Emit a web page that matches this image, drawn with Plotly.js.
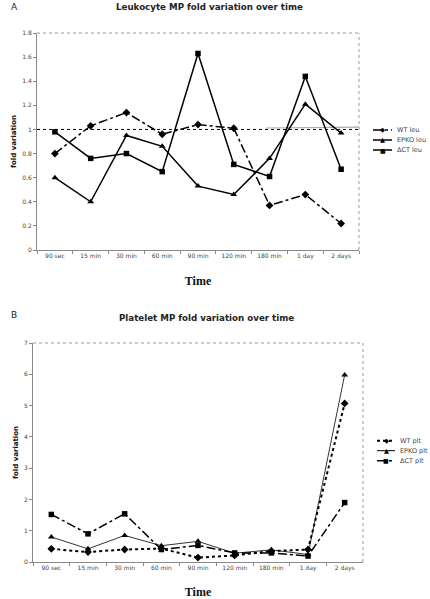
<!DOCTYPE html>
<html><head><meta charset="utf-8">
<script src="https://cdn.plot.ly/plotly-3.0.1.min.js"></script>
<style>html,body{margin:0;padding:0;background:#fff}#c{width:430px;height:599px}</style>
</head><body><div id="c"></div>
<script>
const categories = ["90 sec","15 min","30 min","60 min","90 min","120 min","180 min","1 day","2 days"];
const wtLeu   = [0.80, 1.03, 1.14, 0.96, 1.04, 1.01, 0.37, 0.46, 0.22];
const epkoLeu = [0.60, 0.40, 0.95, 0.86, 0.53, 0.46, 0.76, 1.21, 0.97];
const dctLeu  = [0.98, 0.76, 0.80, 0.65, 1.63, 0.71, 0.61, 1.44, 0.67];
const wtPlt   = [0.42, 0.32, 0.40, 0.43, 0.14, 0.21, 0.35, 0.40, 5.07];
const epkoPlt = [0.80, 0.42, 0.85, 0.52, 0.66, 0.28, 0.39, 0.24, 5.98];
const dctPlt  = [1.52, 0.90, 1.54, 0.40, 0.53, 0.29, 0.29, 0.19, 1.90];
const topTicks = [0, 0.2, 0.4, 0.6, 0.8, 1, 1.2, 1.4, 1.6, 1.8];
const botTicks = [0, 1, 2, 3, 4, 5, 6, 7];
const topNames = ["WT leu", "EPKO leu", "\u0394CT leu"];
const botNames = ["WT plt", "EPKO plt", "\u0394CT plt"];

const F = "DejaVu Sans, Verdana, sans-serif";
const W = 430, H = 599;
function tr(y, name, sym, dash, w, xa, ya, msize){
  return {x: categories, y: y, name: name, type: "scatter", mode: "lines+markers",
    xaxis: xa, yaxis: ya, showlegend: false,
    line: {color: "#000", width: w, dash: dash},
    marker: {symbol: sym, size: msize, color: "#000"}};
}
const styles = {
  top: [["diamond", "dashdot", 1.5, 6, "\u25C6"], ["triangle-up", "solid", 1.5, 6, "\u25B2"], ["square", "solid", 1.5, 5.5, "\u25A0"]],
  bot: [["diamond", "dot", 2, 6, "\u25C6"], ["triangle-up", "solid", 0.8, 6, "\u25B2"], ["square", "dashdot", 1.5, 5.5, "\u25A0"]]
};
const series = {top: [wtLeu, epkoLeu, dctLeu], bot: [wtPlt, epkoPlt, dctPlt]};
const data = [];
series.top.forEach((s, i) => { const st = styles.top[i]; data.push(tr(s, topNames[i], st[0], st[1], st[2], "x", "y", st[3])); });
series.bot.forEach((s, i) => { const st = styles.bot[i]; data.push(tr(s, botNames[i], st[0], st[1], st[2], "x2", "y2", st[3])); });

const xax = (dom, anchor) => ({domain: dom, anchor: anchor, type: "category", range: [-0.5, 8.5],
  showline: true, linecolor: "#888", linewidth: 1, ticks: "outside", tickson: "boundaries",
  ticklen: 3, tickcolor: "#888", showgrid: false, zeroline: false, tickangle: 0,
  tickfont: {family: F, size: 6, color: "#444"},
  title: {text: "Time", font: {family: "Liberation Serif, Times New Roman, serif", size: 12, color: "#111", weight: "bold"}, standoff: 17}});
const yax = (dom, anchor, rng, ticks) => ({domain: dom, anchor: anchor, range: rng, tickvals: ticks,
  showline: true, linecolor: "#888", linewidth: 1, ticks: "outside", ticklen: 3, tickcolor: "#888",
  showgrid: false, zeroline: false, tickfont: {family: F, size: 6, color: "#444"},
  title: {text: "fold variation", font: {family: F, size: 7, color: "#111", weight: "bold"}, standoff: 4}});
const border = (xr, yr) => [
  {type: "line", xref: xr + " domain", yref: yr + " domain", x0: 0, x1: 1, y0: 1, y1: 1, line: {color: "#999", width: 1, dash: "dot"}},
  {type: "line", xref: xr + " domain", yref: yr + " domain", x0: 1, x1: 1, y0: 0, y1: 1, line: {color: "#999", width: 1, dash: "dot"}}
];
const shapes = [].concat(border("x", "y"), border("x2", "y2"), [
  {type: "line", xref: "x", yref: "y", x0: -0.5, x1: 8.5, y0: 1, y1: 1, line: {color: "#000", width: 1, dash: "dot"}, layer: "below"},
  {type: "line", xref: "x", yref: "y", x0: 5.9, x1: 8.5, y0: 1.012, y1: 1.02, line: {color: "#aaa", width: 1.2}, layer: "below"}
]);
const annotations = [
  {text: "A", xref: "paper", yref: "paper", x: 9/W, y: 1 - 7/H, xanchor: "left", yanchor: "middle", showarrow: false, font: {family: F, size: 9, color: "#222"}},
  {text: "<b>Leukocyte MP fold variation over time</b>", xref: "paper", yref: "paper", x: 209/W, y: 1 - 7.5/H, xanchor: "center", yanchor: "middle", showarrow: false, font: {family: F, size: 8.7, color: "#222"}},
  {text: "B", xref: "paper", yref: "paper", x: 9/W, y: 1 - 315/H, xanchor: "left", yanchor: "middle", showarrow: false, font: {family: F, size: 9, color: "#222"}},
  {text: "<b>Platelet MP fold variation over time</b>", xref: "paper", yref: "paper", x: 206/W, y: 1 - 318/H, xanchor: "center", yanchor: "middle", showarrow: false, font: {family: F, size: 8.7, color: "#222"}}
];
function legend(names, sts, x0, x1, yStart){
  names.forEach((n, i) => {
    const yy = 1 - (yStart + i * 10) / H;
    const st = sts[i];
    shapes.push({type: "line", xref: "paper", yref: "paper", x0: x0 / W, x1: x1 / W, y0: yy, y1: yy,
      line: {color: "#000", width: Math.max(st[2], 1), dash: st[1]}});
    annotations.push({text: st[4], xref: "paper", yref: "paper", x: (x0 + x1) / 2 / W, y: yy, xanchor: "center", yanchor: "middle",
      showarrow: false, font: {family: F, size: st[0] === "square" ? 6 : 6.5, color: "#000"}});
    annotations.push({text: n, xref: "paper", yref: "paper", x: (x1 + 3) / W, y: yy, xanchor: "left", yanchor: "middle",
      showarrow: false, font: {family: F, size: 6.5, color: "#444"}});
  });
}
legend(topNames, styles.top, 373, 392, 130);
legend(botNames, styles.bot, 377, 395, 440.7);

const layout = {
  width: W, height: H, margin: {l: 0, r: 0, t: 0, b: 0},
  paper_bgcolor: "#fff", plot_bgcolor: "#fff", showlegend: false,
  xaxis: xax([37/W, 359/W], "y"),
  yaxis: yax([1 - 250/H, 1 - 33/H], "x", [0, 1.8], topTicks),
  xaxis2: xax([33/W, 363/W], "y2"),
  yaxis2: yax([1 - 562/H, 1 - 343/H], "x2", [0, 7], botTicks),
  shapes: shapes, annotations: annotations
};
Plotly.newPlot("c", data, layout, {displayModeBar: false, staticPlot: true});
</script></body></html>
